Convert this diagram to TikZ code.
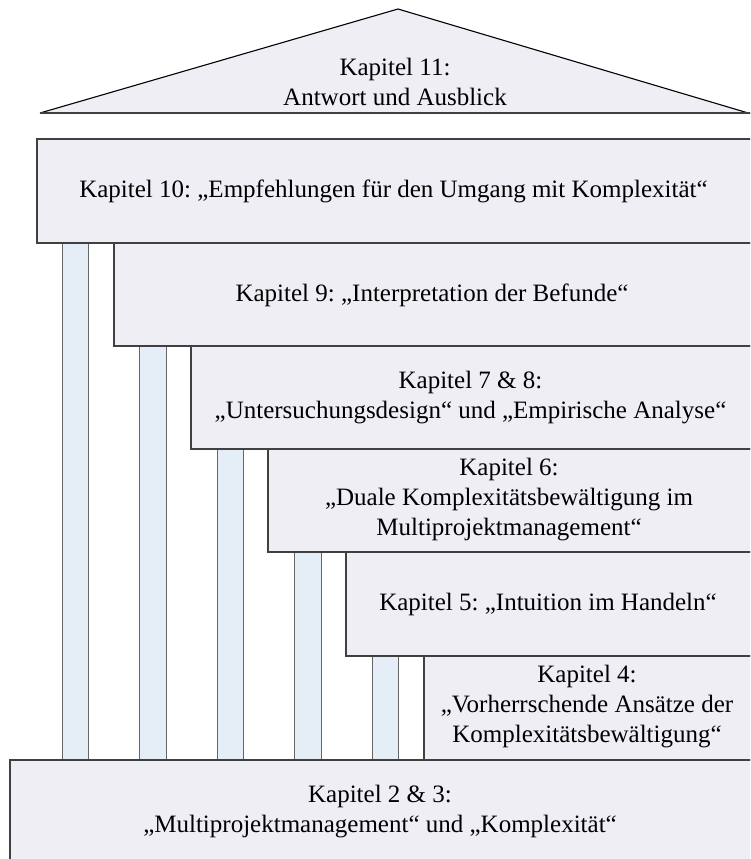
\documentclass[tikz,border=0pt]{standalone}
\usepackage{fontspec}
\setmainfont{Liberation Serif}
\frenchspacing
\definecolor{boxfill}{HTML}{EFEEF4}
\definecolor{pillarfill}{HTML}{E5EDF7}
\definecolor{edge}{HTML}{404040}
\begin{document}
\begin{tikzpicture}[x=1pt,y=-1pt,
  block/.style={fill=boxfill,draw=edge,line width=1.1pt},
  pillar/.style={fill=pillarfill,draw=edge!80,line width=1pt},
  label/.style={font=\fontsize{25}{30}\selectfont,align=center,inner sep=0pt,text=black}]
\useasboundingbox (0,0) rectangle (750,859);
\clip (0,0) rectangle (750,859);

% roof
\fill[boxfill] (40,113) -- (398,9) -- (760,116) -- (760,113) -- cycle;
\draw[black,line width=1.1pt,line join=round] (40,113) -- (398,9) -- (765,118);
\draw[edge,line width=1.2pt] (40,113) -- (760,113);
\node[label] (k11) at (395,82) {Kapitel 11:\\Antwort und Ausblick};

% pillars between the floors
\draw[pillar] (62,243) rectangle (88,760);
\draw[pillar] (139,346) rectangle (166,760);
\draw[pillar] (217,449) rectangle (243,760);
\draw[pillar] (294,552) rectangle (321,760);
\draw[pillar] (372,656) rectangle (398,760);

% stepped floors
\draw[block] (37,139) rectangle (760,243);
\draw[block] (114,243) rectangle (760,346);
\draw[block] (191,346) rectangle (760,449);
\draw[block] (268,449) rectangle (760,552);
\draw[block] (346,552) rectangle (760,656);
\draw[block] (424,656) rectangle (760,760);
\draw[block] (10,760) rectangle (760,880);

\node[label] (k10) at (393.5,191) {Kapitel 10: „Empfehlungen für den Umgang mit Komplexität“};
\node[label] (k9) at (432,295) {Kapitel 9: „Interpretation der Befunde“};
\node[label] (k78) at (470.5,398) {Kapitel 7 \& 8:\\„Untersuchungsdesign“ und „Empirische Analyse“};
\node[label] (k6) at (509,500) {Kapitel 6:\\„Duale Komplexitätsbewältigung im\\Multiprojektmanagement“};
\node[label] (k5) at (548,604) {Kapitel 5: „Intuition im Handeln“};
\node[label] (k4) at (587,707) {Kapitel 4:\\„Vorherrschende Ansätze der\\Komplexitätsbewältigung“};
\node[label] (k23) at (380,812) {Kapitel 2 \& 3:\\„Multiprojektmanagement“ und „Komplexität“};
\end{tikzpicture}
\end{document}
